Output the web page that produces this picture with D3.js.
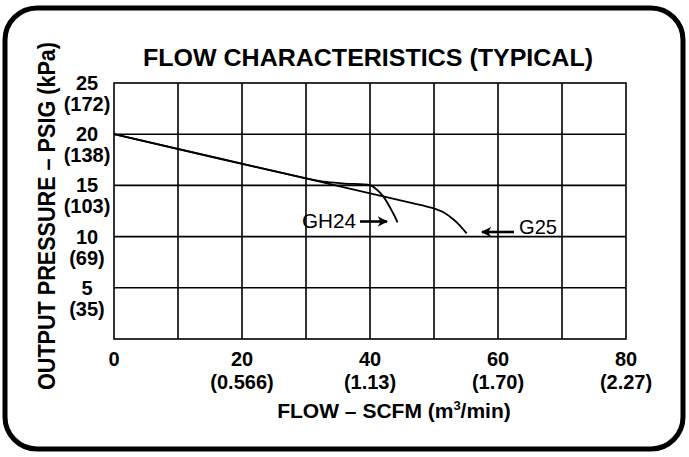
<!DOCTYPE html>
<html>
<head>
    <title>Flow Characteristics (Typical)</title>
    <script src="https://d3js.org/d3.v7.min.js"></script>
  <style>
        body { margin: 0; background: #fff; }
        text { font-family: "Liberation Sans", Arial, Helvetica, sans-serif; fill: #000; }
  </style>
</head>
<body>
    <div id="chart"></div>

  <script>
        // Values
        const flowTicks = [0, 20, 40, 60, 80];
        const flowMetric = ["", "(0.566)", "(1.13)", "(1.70)", "(2.27)"];
        const psigTicks = [5, 10, 15, 20, 25];
        const kpaLabels = ["(35)", "(69)", "(103)", "(138)", "(172)"];
        const gridFlow = [10, 20, 30, 40, 50, 60, 70];
        const gridPsig = [5, 10, 15, 20];

        const g25Flow = [0, 30, 47.8, 49.85, 51.4, 52.95, 54.05, 55.1];
        const g25Psig = [20, 15.68, 13.09, 12.79, 12.4, 11.72, 11.08, 10.32];
        const gh24Flow = [0, 30, 32.7, 36, 40, 41, 42.1, 43.6, 44.3];
        const gh24Psig = [20, 15.68, 15.36, 15.18, 15.02, 14.62, 13.9, 12.3, 11.4];

        const width = 689;
        const height = 457;
        const plot = { left: 114, right: 626, top: 83, bottom: 339 };

        const svg = d3.select("#chart")
            .append("svg")
            .attr("width", width)
            .attr("height", height);

        // rounded outer frame
        svg.append("rect")
            .attr("x", 5).attr("y", 8)
            .attr("width", 678).attr("height", 441)
            .attr("rx", 32).attr("ry", 32)
            .attr("fill", "none")
            .attr("stroke", "#000")
            .attr("stroke-width", 5);

        const x = d3.scaleLinear().domain([0, 80]).range([plot.left, plot.right]);
        const y = d3.scaleLinear().domain([0, 25]).range([plot.bottom, plot.top]);

        // grid
        svg.append("g").selectAll("line")
            .data(gridFlow)
            .enter().append("line")
            .attr("x1", d => x(d)).attr("x2", d => x(d))
            .attr("y1", y(25)).attr("y2", y(0))
            .attr("stroke", "#000").attr("stroke-width", 1.6);

        svg.append("g").selectAll("line")
            .data(gridPsig)
            .enter().append("line")
            .attr("x1", x(0)).attr("x2", x(80))
            .attr("y1", d => y(d)).attr("y2", d => y(d))
            .attr("stroke", "#000").attr("stroke-width", 1.6);

        svg.append("rect")
            .attr("x", x(0)).attr("y", y(25))
            .attr("width", x(80) - x(0)).attr("height", y(0) - y(25))
            .attr("fill", "none")
            .attr("stroke", "#000").attr("stroke-width", 1.6);

        // title
        svg.append("text")
            .attr("x", 368).attr("y", 66)
            .attr("text-anchor", "middle")
            .attr("font-size", 23).attr("font-weight", "bold")
            .attr("textLength", 450).attr("lengthAdjust", "spacingAndGlyphs")
            .text("FLOW CHARACTERISTICS (TYPICAL)");

        // y tick labels
        const yLab = svg.append("g").attr("font-weight", "bold").attr("font-size", 20).attr("text-anchor", "middle");
        yLab.selectAll(".psig")
            .data(psigTicks)
            .enter().append("text")
            .attr("x", 87).attr("y", d => y(d) + 7)
            .text(d => d);
        yLab.selectAll(".kpa")
            .data(kpaLabels)
            .enter().append("text")
            .attr("x", 87).attr("y", (d, i) => y(psigTicks[i]) + 28)
            .text(d => d);

        // x tick labels
        const xLab = svg.append("g").attr("font-weight", "bold").attr("font-size", 20).attr("text-anchor", "middle");
        xLab.selectAll(".flow")
            .data(flowTicks)
            .enter().append("text")
            .attr("x", d => x(d)).attr("y", 366)
            .text(d => d);
        xLab.selectAll(".m3")
            .data(flowMetric)
            .enter().append("text")
            .attr("x", (d, i) => x(flowTicks[i])).attr("y", 389)
            .text(d => d);

        // axis titles
        const xt = svg.append("text")
            .attr("x", 394).attr("y", 418)
            .attr("text-anchor", "middle")
            .attr("font-size", 21).attr("font-weight", "bold");
        xt.append("tspan").text("FLOW – SCFM (m");
        xt.append("tspan").attr("font-size", 13).attr("dy", -8).text("3");
        xt.append("tspan").attr("dy", 8).text("/min)");

        svg.append("text")
            .attr("transform", "translate(55,216) rotate(-90)")
            .attr("text-anchor", "middle")
            .attr("font-size", 23).attr("font-weight", "bold")
            .attr("textLength", 348).attr("lengthAdjust", "spacingAndGlyphs")
            .text("OUTPUT PRESSURE – PSIG (kPa)");

        // curves
        const line = d3.line()
            .x(d => x(d[0]))
            .y(d => y(d[1]))
            .curve(d3.curveCatmullRom.alpha(0.5));

        svg.append("path")
            .attr("d", line(d3.zip(gh24Flow, gh24Psig)))
            .attr("fill", "none").attr("stroke", "#000").attr("stroke-width", 1.8);

        svg.append("path")
            .attr("d", line(d3.zip(g25Flow, g25Psig)))
            .attr("fill", "none").attr("stroke", "#000").attr("stroke-width", 1.8);

        // curve labels with arrows
        svg.append("defs").append("marker")
            .attr("id", "head")
            .attr("viewBox", "0 0 10 10")
            .attr("refX", 9).attr("refY", 5)
            .attr("markerWidth", 4).attr("markerHeight", 4)
            .attr("markerUnits", "strokeWidth")
            .attr("orient", "auto")
            .append("path")
            .attr("d", "M0,0 L10,5 L0,10 L3,5 Z")
            .attr("fill", "#000");

        svg.append("text")
            .attr("x", 302).attr("y", 228)
            .attr("font-size", 21)
            .attr("textLength", 54).attr("lengthAdjust", "spacingAndGlyphs")
            .text("GH24");
        svg.append("line")
            .attr("x1", 360).attr("x2", 387)
            .attr("y1", 221.5).attr("y2", 221.5)
            .attr("stroke", "#000").attr("stroke-width", 2.6)
            .attr("marker-end", "url(#head)");

        svg.append("text")
            .attr("x", 519).attr("y", 234)
            .attr("font-size", 21)
            .attr("textLength", 38).attr("lengthAdjust", "spacingAndGlyphs")
            .text("G25");
        svg.append("line")
            .attr("x1", 514).attr("x2", 482)
            .attr("y1", 232).attr("y2", 232)
            .attr("stroke", "#000").attr("stroke-width", 2.6)
            .attr("marker-end", "url(#head)");
  </script>
</body>
</html>
